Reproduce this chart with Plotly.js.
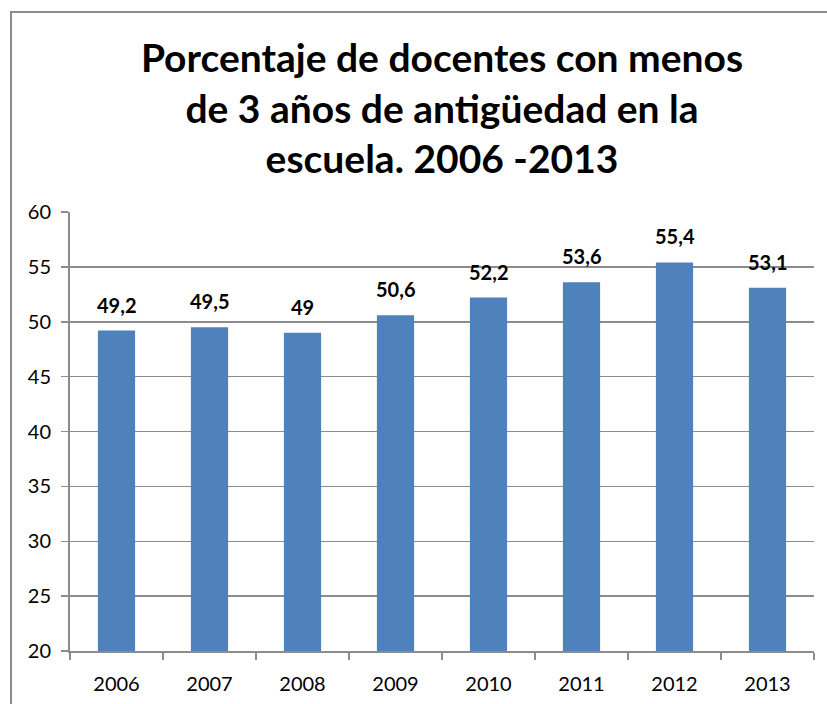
<!DOCTYPE html>
<html>
<head>
<meta charset="utf-8">
<script src="https://cdn.plot.ly/plotly-3.0.1.min.js"></script>
<style>
html,body{margin:0;padding:0;background:#fff;}
#wrap{position:relative;width:827px;height:704px;overflow:hidden;}
#chart{width:827px;height:704px;}
#frame{position:absolute;left:10px;top:11px;width:900px;height:800px;border-left:2px solid #8c8c8c;border-top:2px solid #8c8c8c;pointer-events:none;}
</style>
</head>
<body>
<div id="wrap"><div id="chart"></div><div id="frame"></div></div>
<script>
const years = ['2006','2007','2008','2009','2010','2011','2012','2013'];
const values = [49.2, 49.5, 49, 50.6, 52.2, 53.6, 55.4, 53.1];
const labels = values.map(v => String(v).replace('.', ','));
const titleText = 'Porcentaje de docentes con menos<br>de 3 años de antigüedad en la<br>escuela. 2006 -2013';

const trace = {
  type: 'bar',
  x: years,
  y: values,
  marker: {color: '#4F81BD'},
  hoverinfo: 'none'
};

const annotations = years.map((yr, i) => ({
  x: i, y: values[i], xref: 'x', yref: 'y',
  text: '<b>' + labels[i] + '</b>',
  showarrow: false, yanchor: 'bottom', yshift: 12,
  font: {family: 'Lato, sans-serif', size: 20, color: '#000'}
}));

const layout = {
  width: 827, height: 704,
  margin: {l: 70, r: 13, t: 212, b: 53},
  paper_bgcolor: '#fff', plot_bgcolor: '#fff',
  bargap: 0.6,
  showlegend: false,
  title: {
    text: '<b>' + titleText + '</b>',
    font: {family: 'Lato, sans-serif', size: 39, color: '#000'},
    x: 0.5, xref: 'paper', xanchor: 'center',
    y: 1 - 72/704, yref: 'container', yanchor: 'top'
  },
  xaxis: {
    type: 'category',
    range: [-0.5, 7.5],
    showline: true, linecolor: '#8c8c8c', linewidth: 2,
    ticks: 'outside', ticklen: 7, tickcolor: '#8c8c8c', tickwidth: 1.5,
    tickson: 'boundaries',
    tickangle: 0,
    ticklabelstandoff: 14,
    tickfont: {family: 'Lato, sans-serif', size: 20, color: '#000'},
    showgrid: false
  },
  yaxis: {
    range: [20, 60], dtick: 5, tick0: 20,
    showline: true, linecolor: '#8c8c8c', linewidth: 2,
    ticks: 'outside', ticklen: 7, tickcolor: '#8c8c8c', tickwidth: 1.5,
    ticklabelstandoff: 6,
    showgrid: true, gridcolor: '#8c8c8c', gridwidth: 1.5,
    zeroline: false,
    tickfont: {family: 'Lato, sans-serif', size: 20, color: '#000'}
  },
  annotations: annotations
};

Plotly.newPlot('chart', [trace], layout, {staticPlot: true, displayModeBar: false});
</script>
</body>
</html>
